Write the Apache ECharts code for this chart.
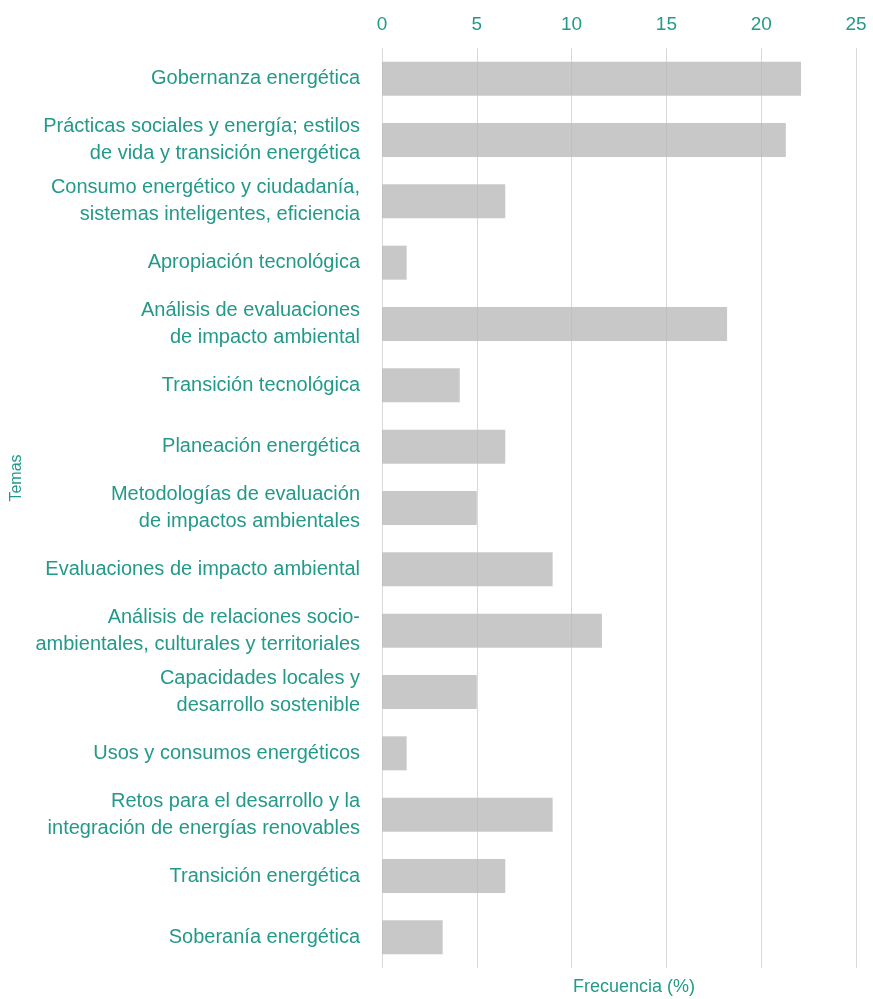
<!DOCTYPE html>
<html>
<head>
<meta charset="utf-8">
<script src="https://cdn.jsdelivr.net/npm/echarts@6/dist/echarts.min.js"></script>
<style>
html,body{margin:0;padding:0;background:#fff;}
#chart{width:873px;height:999px;}
</style>
</head>
<body>
<div id="chart"></div>
<script>
const categories = [
  "Gobernanza energética",
  "Prácticas sociales y energía; estilos\nde vida y transición energética",
  "Consumo energético y ciudadanía,\nsistemas inteligentes, eficiencia",
  "Apropiación tecnológica",
  "Análisis de evaluaciones\nde impacto ambiental",
  "Transición tecnológica",
  "Planeación energética",
  "Metodologías de evaluación\nde impactos ambientales",
  "Evaluaciones de impacto ambiental",
  "Análisis de relaciones socio-\nambientales, culturales y territoriales",
  "Capacidades locales y\ndesarrollo sostenible",
  "Usos y consumos energéticos",
  "Retos para el desarrollo y la\nintegración de energías renovables",
  "Transición energética",
  "Soberanía energética"
];
const frecuencia = [22.1, 21.3, 6.5, 1.3, 18.2, 4.1, 6.5, 5.0, 9.0, 11.6, 5.0, 1.3, 9.0, 6.5, 3.2];
const xTicks = [0, 5, 10, 15, 20, 25];
const xAxisTitle = "Frecuencia (%)";
const yAxisTitle = "Temas";

const TEAL = '#23998a';
const FONT = "'Liberation Sans Narrow', 'Arial Narrow', 'Liberation Sans', Arial, sans-serif";

const chart = echarts.init(document.getElementById('chart'), null, {renderer: 'canvas'});
chart.setOption({
  animation: false,
  backgroundColor: '#ffffff',
  grid: {left: 382, right: 17, top: 48, bottom: 31, containLabel: false, outerBoundsMode: 'none'},
  title: {
    text: xAxisTitle,
    left: 629, top: 973, textAlign: 'center',
    textStyle: {color: TEAL, fontFamily: FONT, fontSize: 18, fontWeight: 'normal'}
  },
  graphic: [{
    type: 'text',
    x: 17, y: 478, rotation: Math.PI / 2,
    style: {text: yAxisTitle, fill: TEAL, font: "16px " + FONT, align: 'center', verticalAlign: 'middle'}
  }],
  xAxis: {
    type: 'value', position: 'top',
    min: xTicks[0], max: xTicks[xTicks.length - 1], interval: 5,
    axisLine: {show: false}, axisTick: {show: false},
    axisLabel: {color: TEAL, fontFamily: FONT, fontSize: 19, margin: 14},
    splitLine: {show: true, lineStyle: {color: '#d9d9d9', width: 1}}
  },
  yAxis: {
    type: 'category', inverse: true, data: categories,
    axisLine: {show: false}, axisTick: {show: false},
    axisLabel: {color: TEAL, fontFamily: FONT, fontSize: 20, lineHeight: 27, margin: 22, align: 'right'}
  },
  series: [{
    type: 'bar', data: frecuencia, barWidth: 34,
    itemStyle: {color: 'rgba(185,185,185,0.78)'},
    silent: true
  }]
});
</script>
</body>
</html>
